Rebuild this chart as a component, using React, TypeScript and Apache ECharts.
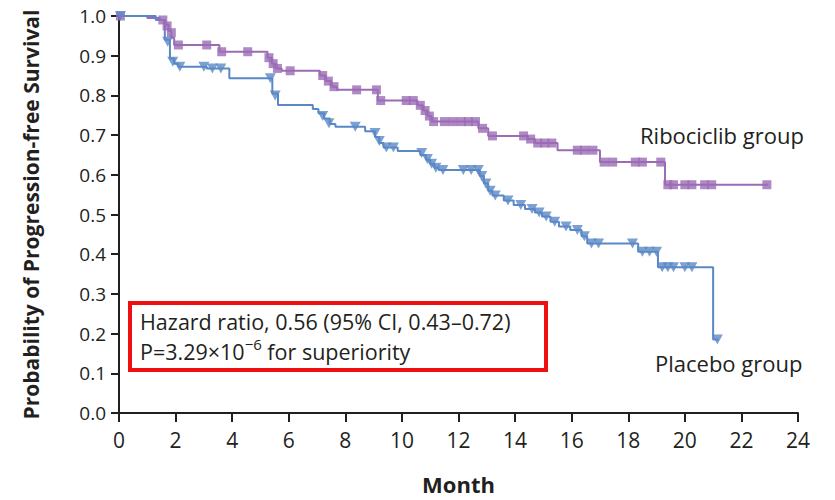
import React, { useEffect, useRef } from "react";
import * as echarts from "echarts";

// ---- Data ----
const seriesNames = ["Ribociclib group", "Placebo group"];

const riboSteps: [number, number][] = [
  [0, 1], [1.0, 0.995], [1.45, 0.99], [1.62, 0.978], [1.75, 0.962], [1.85, 0.945], [1.95, 0.927],
  [3.55, 0.91], [5.25, 0.895], [5.4, 0.88], [5.55, 0.868], [5.75, 0.862], [7.1, 0.85], [7.3, 0.836],
  [7.5, 0.822], [7.7, 0.814], [9.15, 0.787], [10.55, 0.775], [10.75, 0.762], [10.9, 0.748],
  [11.05, 0.734], [12.7, 0.717], [13.05, 0.698], [14.45, 0.69], [14.7, 0.68], [15.5, 0.662],
  [17.0, 0.632], [19.3, 0.575], [22.95, 0.575],
];

const riboCensored: [number, number][] = [
  [0.05, 1.0], [1.55, 0.99], [1.7, 0.975], [1.85, 0.958], [2.1, 0.927], [3.1, 0.927], [3.63, 0.91],
  [4.55, 0.91], [5.3, 0.895], [5.45, 0.88], [5.6, 0.868], [6.05, 0.862], [7.2, 0.85], [7.4, 0.836],
  [7.6, 0.822], [8.4, 0.814], [9.1, 0.814], [9.25, 0.787], [10.15, 0.787], [10.4, 0.787],
  [10.65, 0.775], [10.82, 0.762], [10.97, 0.748], [11.12, 0.734], [11.5, 0.734], [11.8, 0.734],
  [12.1, 0.734], [12.35, 0.734], [12.6, 0.734], [12.85, 0.717], [13.2, 0.698], [14.3, 0.698],
  [14.55, 0.69], [14.8, 0.68], [15.05, 0.68], [15.3, 0.68], [16.2, 0.662], [16.45, 0.662],
  [16.75, 0.662], [17.15, 0.632], [17.45, 0.632], [18.25, 0.632], [18.5, 0.632], [19.15, 0.632],
  [19.4, 0.575], [19.6, 0.575], [20.0, 0.575], [20.25, 0.575], [20.7, 0.575], [20.95, 0.575],
  [22.9, 0.575],
];

const placeboSteps: [number, number][] = [
  [0, 1], [1.3, 0.99], [1.62, 0.94], [1.8, 0.893], [1.95, 0.88], [2.1, 0.872], [3.1, 0.868],
  [3.9, 0.843], [5.42, 0.805], [5.62, 0.776], [6.85, 0.766], [7.05, 0.755], [7.25, 0.742],
  [7.45, 0.728], [7.65, 0.721], [8.7, 0.71], [9.05, 0.695], [9.2, 0.68], [9.35, 0.669],
  [9.85, 0.66], [10.65, 0.65], [10.85, 0.638], [11.0, 0.627], [11.15, 0.618], [11.3, 0.612],
  [12.75, 0.597], [12.9, 0.578], [13.05, 0.56], [13.2, 0.548], [13.6, 0.535], [13.95, 0.524],
  [14.35, 0.514], [14.7, 0.505], [14.95, 0.495], [15.25, 0.482], [15.55, 0.47], [15.95, 0.461],
  [16.35, 0.445], [16.55, 0.427], [18.35, 0.406], [19.05, 0.367], [21.0, 0.185], [21.2, 0.185],
];

const placeboCensored: [number, number][] = [
  [0.05, 1.0], [1.72, 0.935], [1.9, 0.885], [2.15, 0.872], [3.0, 0.872], [3.3, 0.868], [3.6, 0.868],
  [5.35, 0.843], [5.52, 0.8], [7.2, 0.748], [7.42, 0.73], [8.35, 0.721], [9.05, 0.705], [9.2, 0.685],
  [9.45, 0.669], [9.7, 0.669], [10.7, 0.655], [10.9, 0.64], [11.05, 0.628], [11.2, 0.618],
  [11.45, 0.612], [12.17, 0.612], [12.45, 0.612], [12.7, 0.612], [12.82, 0.597], [12.97, 0.578],
  [13.12, 0.56], [13.3, 0.548], [13.75, 0.535], [14.2, 0.524], [14.6, 0.514], [14.85, 0.505],
  [15.1, 0.495], [15.4, 0.482], [15.8, 0.47], [16.2, 0.461], [16.45, 0.445], [16.7, 0.427],
  [16.95, 0.427], [18.15, 0.427], [18.5, 0.406], [18.75, 0.406], [19.0, 0.406], [19.2, 0.367],
  [19.4, 0.367], [19.6, 0.367], [20.0, 0.367], [20.25, 0.367], [21.15, 0.185],
];

const xAxisTitle = "Month";
const yAxisTitle = "Probability of Progression-free Survival";
const statLine1 = "Hazard ratio, 0.56 (95% CI, 0.43–0.72)";
const statLine2Pre = "P=3.29×10";
const statLine2Sup = "−6";
const statLine2Post = " for superiority";

const PURPLE = "#9b6bb5";
const BLUE = "#5a88c6";
const INK = "#231f20";
const FONT = "'Open Sans', 'Noto Sans', sans-serif";
const NARROW = "'Liberation Sans Narrow', 'Open Sans', sans-serif";

export default function App() {
  const ref = useRef<HTMLDivElement>(null);

  useEffect(() => {
    document.body.style.margin = "0";
    if (!ref.current) return;
    const chart = echarts.init(ref.current, null, { renderer: "svg" });
    chart.setOption({
      animation: false,
      backgroundColor: "#ffffff",
      grid: { left: 119, right: 37, top: 16, bottom: 87, containLabel: false, outerBoundsMode: "none" },
      xAxis: {
        type: "value",
        min: 0,
        max: 24,
        interval: 2,
        name: xAxisTitle,
        nameLocation: "middle",
        nameGap: 60,
        nameTextStyle: { fontFamily: NARROW, fontWeight: "bold", fontSize: 22, color: INK },
        axisLine: { show: true, lineStyle: { color: INK, width: 2 } },
        axisTick: { show: true, length: 9, lineStyle: { color: INK, width: 2 } },
        axisLabel: { margin: 16, fontFamily: NARROW, fontSize: 21, color: INK },
        splitLine: { show: false },
      },
      yAxis: {
        type: "value",
        min: 0,
        max: 1,
        interval: 0.1,
        name: yAxisTitle,
        nameLocation: "middle",
        nameGap: 78,
        nameTextStyle: { fontFamily: FONT, fontWeight: "bold", fontSize: 21, color: INK },
        axisLine: { show: true, lineStyle: { color: INK, width: 2 } },
        axisTick: { show: true, length: 8, lineStyle: { color: INK, width: 2 } },
        axisLabel: {
          margin: 13,
          fontFamily: FONT,
          fontSize: 19,
          color: INK,
          formatter: (v: number) => v.toFixed(1),
        },
        splitLine: { show: false },
      },
      series: [
        {
          name: seriesNames[0],
          type: "line",
          step: "end",
          data: riboSteps,
          showSymbol: false,
          lineStyle: { color: PURPLE, width: 2 },
          z: 2,
        },
        {
          name: seriesNames[0] + " censored",
          type: "scatter",
          data: riboCensored,
          symbol: "rect",
          symbolSize: 9,
          itemStyle: { color: PURPLE },
          z: 3,
        },
        {
          name: seriesNames[1],
          type: "line",
          step: "end",
          data: placeboSteps,
          showSymbol: false,
          lineStyle: { color: BLUE, width: 2 },
          z: 2,
        },
        {
          name: seriesNames[1] + " censored",
          type: "scatter",
          data: placeboCensored,
          symbol: "triangle",
          symbolSize: [11, 10],
          symbolRotate: 180,
          itemStyle: { color: BLUE },
          z: 3,
        },
      ],
      graphic: [
        {
          type: "text",
          x: 640,
          y: 135,
          style: { text: seriesNames[0], fontFamily: FONT, fontSize: 22, fill: INK, verticalAlign: "middle", align: "left" },
        },
        {
          type: "text",
          x: 655,
          y: 363,
          style: { text: seriesNames[1], fontFamily: FONT, fontSize: 22, fill: INK, verticalAlign: "middle", align: "left" },
        },
        {
          type: "rect",
          shape: { x: 130, y: 303, width: 416, height: 67 },
          style: { fill: "#ffffff", stroke: "#ee1010", lineWidth: 4 },
          z: 10,
        },
        {
          type: "text",
          x: 140,
          y: 321,
          z: 11,
          style: {
            text: statLine1,
            fontFamily: FONT,
            fontSize: 21.5,
            lineHeight: 22,
            fill: INK,
            verticalAlign: "middle",
            align: "left",
          },
        },
        {
          type: "text",
          x: 140,
          y: 351,
          z: 11,
          style: {
            text: `{a|${statLine2Pre}}{s|${statLine2Sup}}{a|${statLine2Post}}`,
            verticalAlign: "middle",
            align: "left",
            rich: {
              a: { fontFamily: FONT, fontSize: 21.5, lineHeight: 22, fill: INK, color: INK },
              s: { fontFamily: FONT, fontSize: 15, lineHeight: 10, fill: INK, color: INK, padding: [0, 0, 14, 0] },
            },
          },
        },
      ],
    });
    return () => chart.dispose();
  }, []);

  return (
    <div
      ref={ref}
      style={{ position: "absolute", left: 0, top: 0, width: 835, height: 500 }}
    />
  );
}
